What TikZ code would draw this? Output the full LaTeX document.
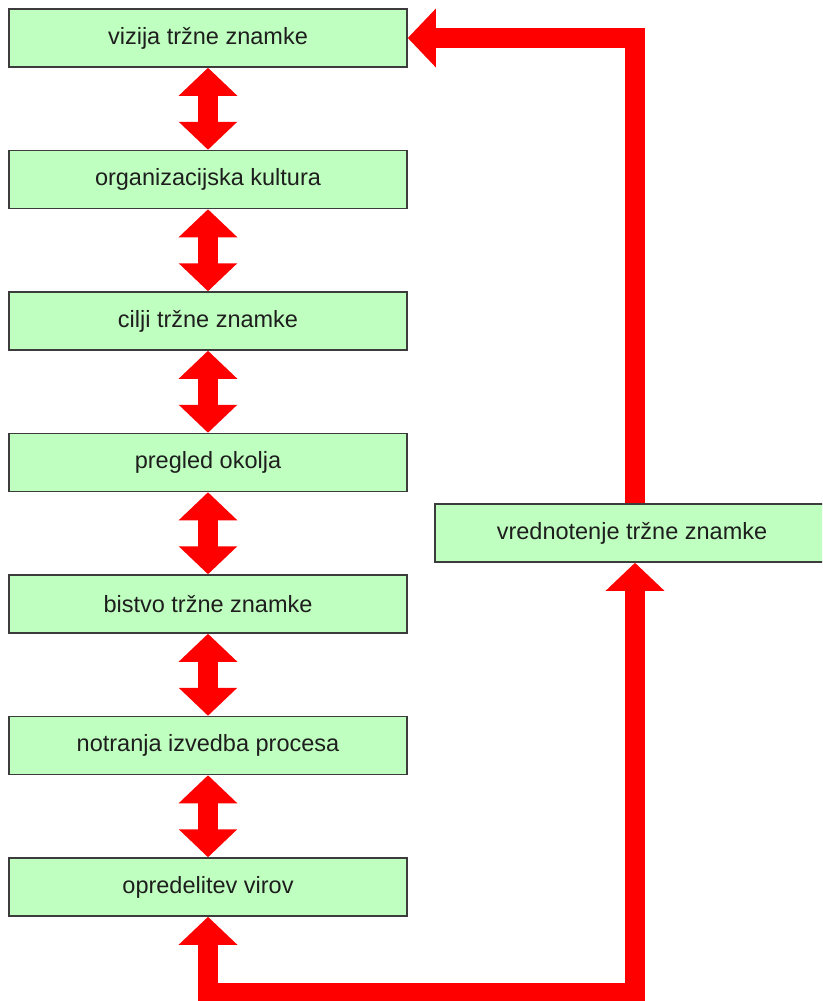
\documentclass[tikz,border=0pt]{standalone}
\usepackage{fontspec}
\setmainfont{Liberation Sans}
\usetikzlibrary{arrows.meta}
\definecolor{boxfill}{HTML}{BFFFBF}
\definecolor{boxline}{HTML}{3C3C3C}
\definecolor{textcol}{HTML}{1E1E1E}
\tikzset{
  stage/.style={draw=boxline, line width=1.5pt, fill=boxfill, minimum height=58pt,
    inner sep=0pt, text=textcol, font=\fontsize{23.5}{28}\selectfont},
  leftstage/.style={stage, minimum width=398pt},
  bigarrow/.style={draw=red, line width=20pt, line join=miter},
  bighead/.tip={Triangle[width=57pt, length=28pt]}
}
\begin{document}
\begin{tikzpicture}[x=1pt, y=-1pt]
\clip (0,0) rectangle (822,1001);
\useasboundingbox (0,0) rectangle (822,1001);
% left column of stages
\node[leftstage] (b1) at (208,38)    {vizija tržne znamke};
\node[leftstage] (b2) at (208,179.5) {organizacijska kultura};
\node[leftstage] (b3) at (208,321)   {cilji tržne znamke};
\node[leftstage] (b4) at (208,462.5) {pregled okolja};
\node[leftstage] (b5) at (208,604)   {bistvo tržne znamke};
\node[leftstage] (b6) at (208,745.5) {notranja izvedba procesa};
\node[leftstage] (b7) at (208,887)   {opredelitev virov};
% evaluation stage on the right, running past the right edge
\node[stage, minimum width=400pt] (r) at (635,533) {\hspace*{-6pt}vrednotenje tržne znamke};
% double arrows between neighbouring stages
\foreach \a/\b in {b1/b2,b2/b3,b3/b4,b4/b5,b5/b6,b6/b7}
  \draw[bigarrow, bighead-bighead] (\a.south) -- (\b.north);
% feedback loop
\coordinate (lowL) at (208,993);
\coordinate (lowR) at (635,993);
\draw[bigarrow, -bighead] (r.north) |- (b1.east);
\draw[bigarrow, bighead-bighead] (b7.south) -- (lowL) -- (lowR) -- (r.south);
\end{tikzpicture}
\end{document}
